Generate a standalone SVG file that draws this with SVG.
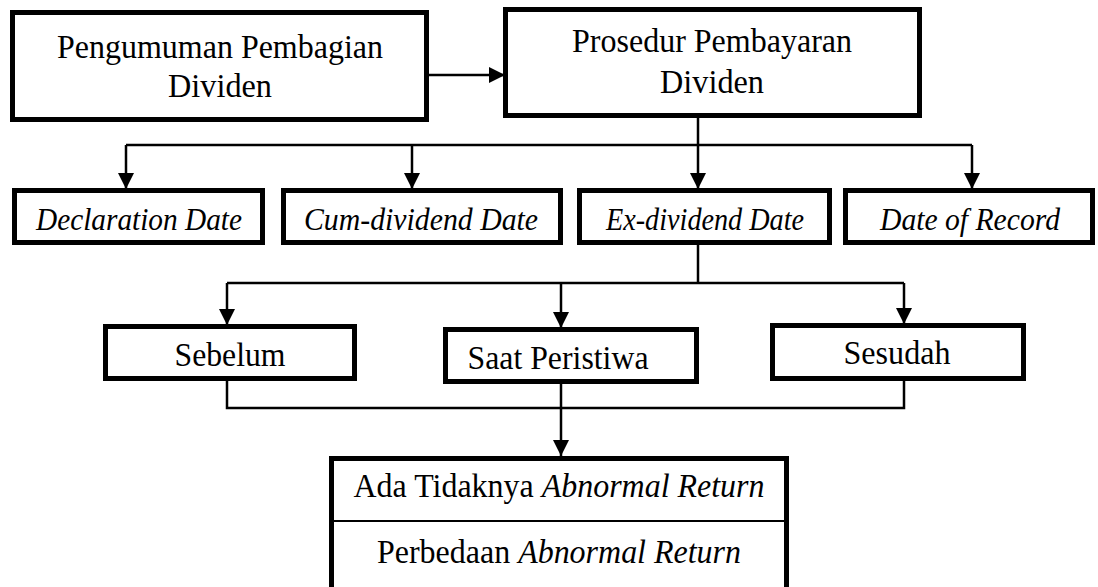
<svg xmlns="http://www.w3.org/2000/svg" width="1098" height="587" viewBox="0 0 1098 587">
<style>
.box{fill:#fff;stroke:#000;stroke-width:5}
.ln{fill:none;stroke:#000;stroke-width:2.5}
.arr{fill:none;stroke:#000;stroke-width:2.5;marker-end:url(#ah)}
text{font-family:"Liberation Serif","Times New Roman",serif;fill:#000;text-anchor:middle}
.t32{font-size:34px}
.t30{font-size:32px;font-style:italic}
.it{font-style:italic}
</style>
<defs>
<marker id="ah" markerUnits="userSpaceOnUse" markerWidth="16" markerHeight="16" refX="16" refY="8" orient="auto">
<path d="M0,0 L16,8 L0,16 z" fill="#000"/>
</marker>
</defs>
<rect width="1098" height="587" fill="#fff"/>
<g id="connectors">
<line class="arr" x1="429" y1="75" x2="505" y2="75"/>
<line class="ln" x1="698" y1="118" x2="698" y2="145"/>
<line class="ln" x1="126" y1="145" x2="972" y2="145"/>
<line class="arr" x1="126" y1="145" x2="126" y2="189"/>
<line class="arr" x1="412" y1="145" x2="412" y2="189"/>
<line class="arr" x1="698" y1="145" x2="698" y2="189"/>
<line class="arr" x1="972" y1="145" x2="972" y2="189"/>
<line class="ln" x1="698" y1="245" x2="698" y2="283"/>
<line class="ln" x1="227" y1="283" x2="904" y2="283"/>
<line class="arr" x1="227" y1="283" x2="227" y2="325"/>
<line class="arr" x1="561" y1="283" x2="561" y2="328"/>
<line class="arr" x1="904" y1="283" x2="904" y2="324"/>
<polyline class="ln" points="227,380 227,408 904,408 904,380"/>
<line class="arr" x1="561" y1="383" x2="561" y2="456"/>
</g>
<g id="n-pengumuman">
<rect class="box" x="12.5" y="12.5" width="414" height="107"/>
<text class="t32" x="220" y="58" textLength="326" lengthAdjust="spacingAndGlyphs">Pengumuman Pembagian</text>
<text class="t32" x="220" y="97" textLength="104" lengthAdjust="spacingAndGlyphs">Dividen</text>
</g>
<g id="n-prosedur">
<rect class="box" x="505.5" y="9.5" width="414" height="106"/>
<text class="t32" x="712" y="52" textLength="280" lengthAdjust="spacingAndGlyphs">Prosedur Pembayaran</text>
<text class="t32" x="712" y="93" textLength="104" lengthAdjust="spacingAndGlyphs">Dividen</text>
</g>
<g id="n-declaration">
<rect class="box" x="14.5" y="190.5" width="248" height="52"/>
<text class="t30" x="139" y="230" textLength="206" lengthAdjust="spacingAndGlyphs">Declaration Date</text>
</g>
<g id="n-cum">
<rect class="box" x="283.5" y="190.5" width="277" height="52"/>
<text class="t30" x="421" y="230" textLength="234" lengthAdjust="spacingAndGlyphs">Cum-dividend Date</text>
</g>
<g id="n-ex">
<rect class="box" x="579.5" y="190.5" width="250" height="52"/>
<text class="t30" x="705" y="230" textLength="198" lengthAdjust="spacingAndGlyphs">Ex-dividend Date</text>
</g>
<g id="n-record">
<rect class="box" x="845.5" y="190.5" width="247" height="52"/>
<text class="t30" x="970" y="230" textLength="180" lengthAdjust="spacingAndGlyphs">Date of Record</text>
</g>
<g id="n-sebelum">
<rect class="box" x="105.5" y="326.5" width="249" height="52"/>
<text class="t32" x="230" y="366" textLength="111" lengthAdjust="spacingAndGlyphs">Sebelum</text>
</g>
<g id="n-saat">
<rect class="box" x="445.5" y="329.5" width="251" height="52"/>
<text class="t32" x="558" y="369" textLength="181" lengthAdjust="spacingAndGlyphs">Saat Peristiwa</text>
</g>
<g id="n-sesudah">
<rect class="box" x="772.5" y="325.5" width="251" height="53"/>
<text class="t32" x="897" y="364" textLength="107" lengthAdjust="spacingAndGlyphs">Sesudah</text>
</g>
<g id="n-hasil">
<path d="M331.5,590 V458.5 H786.5 V590" fill="#fff" stroke="#000" stroke-width="5"/>
<line x1="334" y1="521" x2="784" y2="521" stroke="#000" stroke-width="2"/>
<text class="t32" x="559" y="497" textLength="411" lengthAdjust="spacingAndGlyphs">Ada Tidaknya <tspan class="it">Abnormal Return</tspan></text>
<text class="t32" x="559" y="563" textLength="364" lengthAdjust="spacingAndGlyphs">Perbedaan <tspan class="it">Abnormal Return</tspan></text>
</g>
</svg>
